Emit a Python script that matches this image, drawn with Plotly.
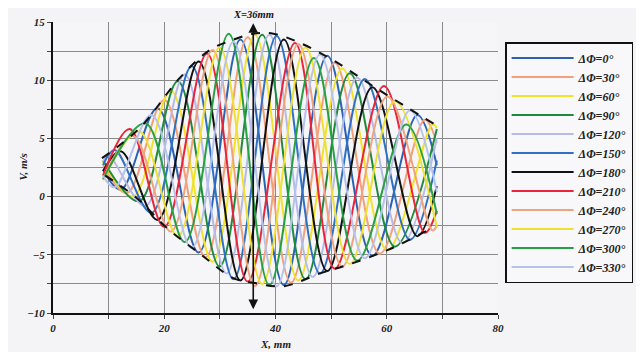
import plotly.graph_objects as go

# ---------------- data ----------------
phases = ["0", "30", "60", "90", "120", "150", "180", "210", "240", "270", "300", "330"]
colors = ["#2b62b4", "#f3a07a", "#f2e22c", "#1f8a3c", "#b4bbe6", "#2f70c4",
          "#111111", "#e8253a", "#efa47e", "#efe034", "#26a042", "#b6c2ea"]

x_0 = [9.0, 12.2, 18.8, 26.2, 33.7, 41.5, 49.3, 57.4, 65.5, 69.0]
v_0 = [2.3, 0.6, 7.6, -4.8, 13.5, -7.6, 12.1, -5.1, 7.0, 2.7]

x_30 = [9.0, 13.3, 20.0, 27.45, 35.0, 42.8, 50.65, 58.75, 66.85, 69.0]
v_30 = [2.7, 0.3, 8.3, -5.2, 13.7, -7.4, 11.5, -4.9, 6.6, 4.6]

x_60 = [9.0, 14.4, 21.2, 28.7, 36.3, 44.1, 52.0, 60.1, 68.2, 69.0]
v_60 = [3.0, 0.0, 9.1, -5.6, 13.9, -7.2, 11.0, -4.6, 6.2, 5.9]

x_90 = [9.0, 15.5, 22.45, 29.95, 37.6, 45.4, 53.35, 61.45, 69.0]
v_90 = [3.1, -0.4, 9.9, -6.0, 13.9, -7.1, 10.6, -4.3, 5.8]

x_120 = [9.0, 10.0, 16.6, 23.7, 31.2, 38.9, 46.7, 54.7, 62.8, 69.0]
v_120 = [3.0, 3.5, -0.8, 10.5, -6.6, 13.9, -6.9, 10.2, -4.0, 5.0]

x_150 = [9.0, 11.1, 17.7, 24.95, 32.45, 40.2, 48.0, 56.05, 64.15, 69.0]
v_150 = [2.7, 4.0, -1.4, 11.2, -7.1, 13.8, -6.6, 10.1, -3.7, 3.1]

x_180 = [9.0, 12.2, 18.8, 26.2, 33.7, 41.5, 49.3, 57.4, 65.5, 69.0]
v_180 = [2.2, 3.9, -2.0, 11.6, -7.2, 13.5, -6.4, 9.4, -3.4, 0.9]

x_210 = [9.0, 13.8, 20.0, 27.7, 35.0, 43.5, 50.65, 59.5, 66.85, 69.0]
v_210 = [1.8, 5.8, -2.6, 12.3, -7.3, 13.2, -6.2, 9.5, -3.1, -1.2]

x_240 = [9.0, 14.4, 21.2, 28.7, 36.3, 44.1, 52.0, 60.1, 68.2, 69.0]
v_240 = [1.5, 5.2, -3.0, 12.6, -7.7, 13.1, -6.0, 8.6, -2.9, -2.5]

x_270 = [9.0, 15.5, 22.45, 29.95, 37.6, 45.4, 53.35, 61.45, 69.0]
v_270 = [1.4, 5.6, -3.4, 12.8, -7.5, 12.8, -5.8, 8.2, -2.6]

x_300 = [9.0, 16.6, 23.7, 31.6, 38.9, 46.9, 54.7, 63.5, 69.0]
v_300 = [1.5, 6.3, -3.9, 14.0, -7.6, 11.9, -5.5, 6.2, -1.5]

x_330 = [9.0, 11.1, 17.7, 24.95, 32.45, 40.2, 48.0, 56.05, 64.15, 69.0]
v_330 = [1.8, 0.8, 7.0, -4.4, 13.3, -7.7, 12.2, -5.3, 7.4, 0.4]

env_up_x = [8.8, 15.6, 22.8, 28.2, 32.0, 36.0, 39.6, 44.4, 50.4, 58.8, 69.0]
env_up_v = [3.3, 5.9, 10.2, 12.6, 13.4, 14.0, 14.0, 13.2, 11.7, 9.1, 6.1]
env_lo_x = [9.4, 15.0, 20.5, 26.4, 32.4, 36.0, 41.4, 48.0, 53.4, 60.6, 68.5]
env_lo_v = [1.8, -0.1, -2.7, -4.9, -7.0, -7.4, -7.7, -6.6, -5.8, -4.5, -2.6]

marker_x = 36
x_ticks = [0, 20, 40, 60, 80]
y_ticks = [-10, -5, 0, 5, 10, 15]

series_x = [x_0, x_30, x_60, x_90, x_120, x_150, x_180, x_210, x_240, x_270, x_300, x_330]
series_v = [v_0, v_30, v_60, v_90, v_120, v_150, v_180, v_210, v_240, v_270, v_300, v_330]

# ---------------- figure ----------------
SERIF = "Liberation Serif, Times New Roman, serif"
fig = go.Figure()
for ph, col, xs, vs in zip(phases, colors, series_x, series_v):
    fig.add_trace(go.Scatter(
        x=xs, y=vs, mode="lines", name=f"<b><i>ΔΦ={ph}°</i></b>",
        line=dict(color=col, width=2, shape="spline", smoothing=1.0)))

for ex, ev in [(env_up_x, env_up_v), (env_lo_x, env_lo_v)]:
    fig.add_trace(go.Scatter(x=ex, y=ev, mode="lines", showlegend=False,
                             line=dict(color="#111111", width=2, dash="dash", shape="spline")))

fig.add_annotation(x=marker_x, y=14.9, ax=marker_x, ay=-9.8, xref="x", yref="y",
                   axref="x", ayref="y", showarrow=True, arrowhead=2, arrowside="end+start",
                   arrowwidth=1.6, arrowsize=1.2, arrowcolor="#111111", text="")
fig.add_annotation(x=marker_x, y=15, xref="x", yref="y", yshift=8, showarrow=False,
                   text=f"<b><i>X={marker_x}mm</i></b>",
                   font=dict(family=SERIF, size=10.5, color="#111111"))
# axis titles
fig.add_annotation(x=0.5, y=0, xref="paper", yref="paper", yshift=-31, showarrow=False,
                   xanchor="center", yanchor="middle",
                   text="<b><i>X, mm</i></b>", font=dict(family=SERIF, size=11, color="#222222"))
fig.add_annotation(x=0, y=0.5, xref="paper", yref="paper", xshift=-31, showarrow=False,
                   xanchor="center", yanchor="middle",
                   textangle=-90, text="<b><i>V, m/s</i></b>",
                   font=dict(family=SERIF, size=11, color="#222222"))

tickfont = dict(family=SERIF, size=11, color="#222222", weight="bold", style="italic")
fig.update_xaxes(range=[0, 80], tickvals=x_ticks, ticks="outside", ticklen=4,
                 showgrid=True, gridcolor="#8a8a8a", gridwidth=1, automargin=False,
                 minor=dict(dtick=10, showgrid=True, gridcolor="#8a8a8a", ticks="outside", ticklen=4),
                 showline=True, linecolor="#111111", linewidth=2, zeroline=False,
                 tickfont=tickfont)
fig.update_yaxes(range=[-10, 15], tickvals=y_ticks, ticks="outside", ticklen=4,
                 showgrid=True, gridcolor="#8a8a8a", gridwidth=1, automargin=False,
                 minor=dict(dtick=2.5, showgrid=True, gridcolor="#8a8a8a", ticks="outside", ticklen=4),
                 showline=True, linecolor="#111111", linewidth=2, zeroline=False,
                 tickfont=tickfont)

# the page adds an 8px body margin, so the figure is sized/offset to compensate
fig.update_layout(
    width=636, height=344,
    margin=dict(l=45, r=146, t=14, b=39, autoexpand=False),
    paper_bgcolor="#f4f4f6", plot_bgcolor="#f6f6f8",
    showlegend=True,
    legend=dict(x=1.016, y=0.931, xanchor="left", yanchor="top",
                bgcolor="#f8f8fa", bordercolor="#111111", borderwidth=1.5,
                itemwidth=62, tracegroupgap=0,
                font=dict(family=SERIF, size=12, color="#222222")),
)

fig.write_html("out.html")
